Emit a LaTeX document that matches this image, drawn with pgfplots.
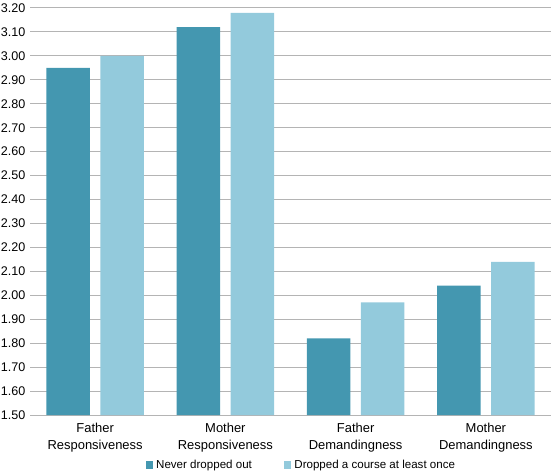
\documentclass[border=0pt]{standalone}
\usepackage{pgfplots}
\pgfplotsset{compat=1.18}
\usepackage{fontspec}
\setmainfont{Liberation Sans}
\definecolor{darkteal}{HTML}{4497B0}
\definecolor{lightblue}{HTML}{93CADC}
\definecolor{gridgray}{HTML}{B4B4B4}
\begin{document}
\begin{tikzpicture}
\begin{axis}[
  scale only axis, width=521bp, height=407bp,
  xmin=-0.5, xmax=3.5, ymin=1.5, ymax=3.2,
  ytick={1.5,1.6,1.7,1.8,1.9,2.0,2.1,2.2,2.3,2.4,2.5,2.6,2.7,2.8,2.9,3.0,3.1,3.2},
  xtick={0,1,2,3},
  xticklabels={{Father\\Responsiveness},{Mother\\Responsiveness},{Father\\Demandingness},{Mother\\Demandingness}},
  axis line style={draw=none}, major tick length=0pt,
  ymajorgrids, grid style={color=gridgray, line width=1bp},
  /pgf/number format/assume math mode=true,
  yticklabel style={font=\fontsize{12.6}{14}\selectfont, inner sep=0pt, anchor=east, xshift=-4.5bp,
    /pgf/number format/.cd, fixed, fixed zerofill, precision=2},
  xticklabel style={font=\fontsize{13}{17}\selectfont, align=center, inner sep=0pt, anchor=north, yshift=-8bp},
  ybar=10.7bp, bar width=43.3bp,
  legend columns=2,
  legend style={draw=none, fill=none, at={(0.2217,-0.1229)}, anchor=west, inner sep=0pt,
    font=\fontsize{11.6}{13}\selectfont, nodes={inner sep=3bp},
    /tikz/every even column/.append style={column sep=29bp}},
  legend image code/.code={\fill[#1] (0bp,-3.6bp) rectangle (7.5bp,3.6bp);},
]
\addplot[fill=darkteal, draw=none] coordinates {(0,2.95) (1,3.12) (2,1.82) (3,2.04)};
\addplot[fill=lightblue, draw=none] coordinates {(0,3.00) (1,3.18) (2,1.97) (3,2.14)};
\legend{Never dropped out, Dropped a course at least once}
\end{axis}
\pgfresetboundingbox
\path[use as bounding box] (-30bp,-57bp) rectangle (523bp,415bp);
\end{tikzpicture}
\end{document}
